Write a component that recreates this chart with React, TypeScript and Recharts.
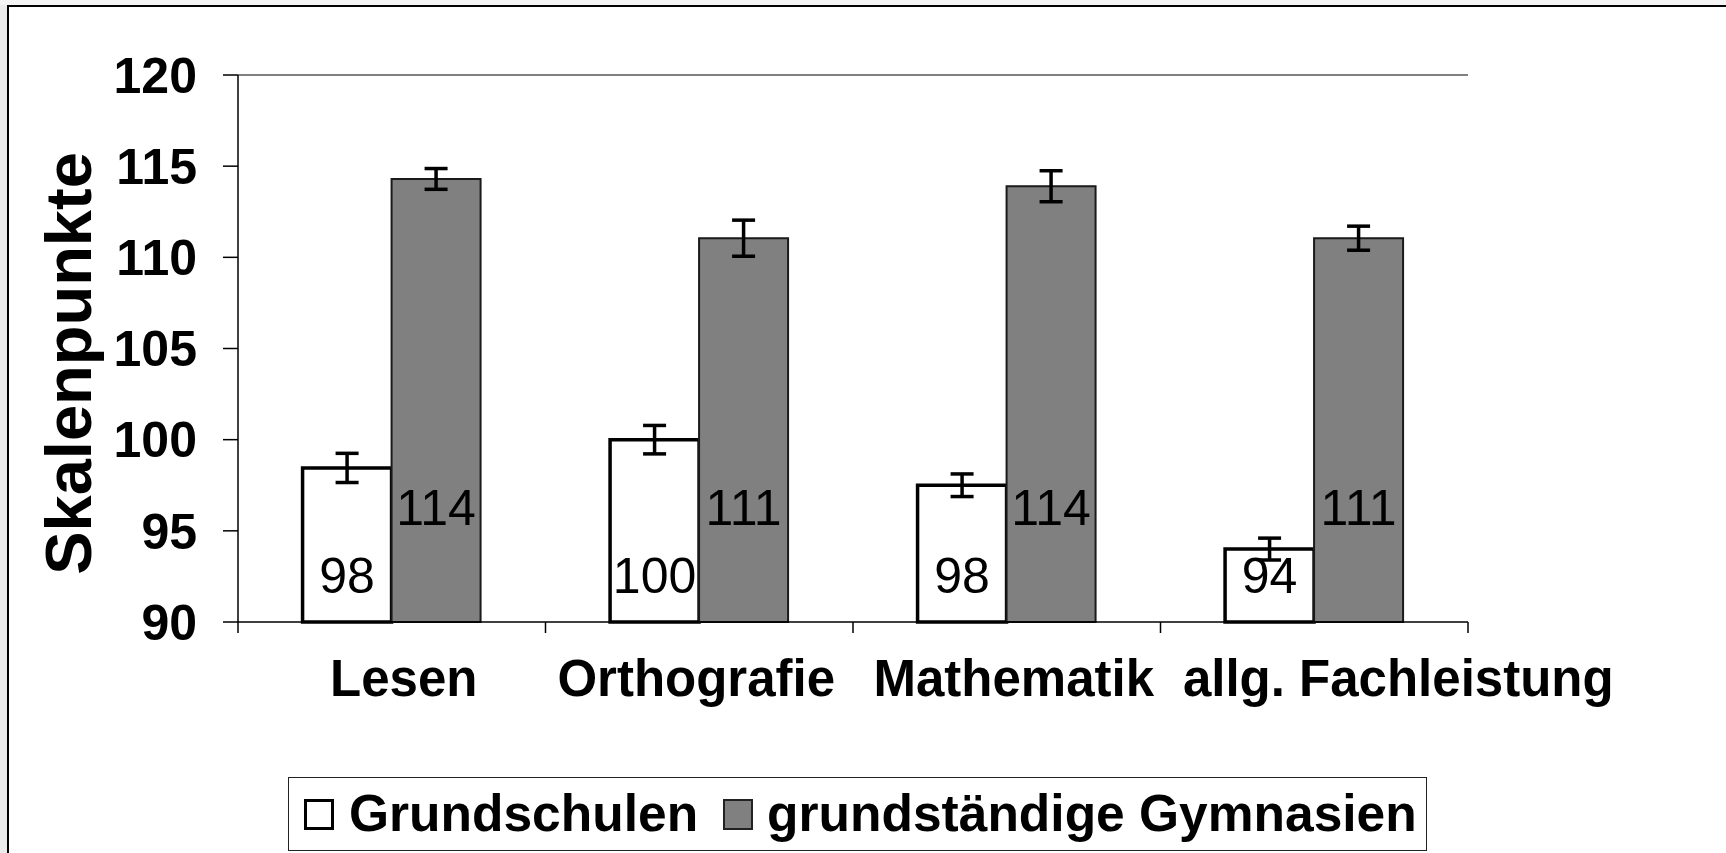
import React from 'react';
import { BarChart, Bar, XAxis, YAxis, ErrorBar, LabelList, Legend, ReferenceLine, Label } from 'recharts';

const categories = ['Lesen', 'Orthografie', 'Mathematik', 'allg. Fachleistung'];
const grundschulen = [98.45, 100.0, 97.5, 94.0];
const grundschulenErr = [0.8, 0.78, 0.62, 0.6];
const gymnasien = [114.3, 111.05, 113.9, 111.05];
const gymnasienErr = [0.57, 0.99, 0.85, 0.66];
const yTicks = [90, 95, 100, 105, 110, 115, 120];
const seriesNames = ['Grundschulen', 'grundständige Gymnasien'];
const axisTitle = 'Skalenpunkte';

// label nudges (layout only)
const TICK_NUDGE = [12, -3, 7, 84];
const FONT = '"Liberation Sans", Arial, Helvetica, sans-serif';

const data = categories.map((c, i) => ({
  cat: c,
  gs: grundschulen[i],
  gsErr: grundschulenErr[i],
  gy: gymnasien[i],
  gyErr: gymnasienErr[i],
}));

const CatTick = (props: any) => {
  const { x, y, payload, index } = props;
  const half = payload && typeof payload.offset === 'number' && payload.offset > 0 ? payload.offset : 153.75;
  const axisY = Number(y) - 11;
  const cx = Number(x);
  return (
    <g>
      <line x1={cx - half} y1={axisY} x2={cx - half} y2={axisY + 11} stroke="#000" strokeWidth={1.5} />
      {index === categories.length - 1 && (
        <line x1={cx + half} y1={axisY} x2={cx + half} y2={axisY + 11} stroke="#000" strokeWidth={1.5} />
      )}
      <text
        x={cx + (TICK_NUDGE[index] || 0)}
        y={axisY + 74}
        textAnchor="middle"
        fontFamily={FONT}
        fontWeight={700}
        fontSize={51}
        fill="#000"
      >
        {payload.value}
      </text>
    </g>
  );
};

const makeLabel = (offset: number) => (props: any) => {
  const { x, y, width, height, value } = props;
  const bottom = Number(y) + Number(height);
  return (
    <text
      x={Number(x) + Number(width) / 2}
      y={bottom - offset}
      textAnchor="middle"
      fontFamily={FONT}
      fontSize={50}
      fill="#000"
    >
      {Math.round(Number(value))}
    </text>
  );
};

const renderLegend = (props: any) => {
  const payload = props.payload || [];
  return (
    <div
      style={{
        boxSizing: 'border-box',
        width: 1139,
        height: 74,
        border: '1.5px solid #222',
        background: '#fff',
        display: 'flex',
        alignItems: 'center',
        paddingLeft: 15,
        fontFamily: FONT,
        fontWeight: 700,
        fontSize: 51.5,
        color: '#000',
        lineHeight: 1,
      }}
    >
      {payload.map((p: any, i: number) => (
        <div key={i} style={{ display: 'flex', alignItems: 'center', marginRight: i === 0 ? 25 : 0 }}>
          <span
            style={{
              display: 'inline-block',
              width: 30,
              height: 31,
              boxSizing: 'border-box',
              background: p.color,
              border: i === 0 ? '3.5px solid #000' : '2px solid #222',
              marginRight: i === 0 ? 15 : 14,
            }}
          />
          <span style={{ whiteSpace: 'nowrap' }}>{p.value}</span>
        </div>
      ))}
    </div>
  );
};

const TitleContent = (p: any) => {
  const vb = p.viewBox || { x: 0, y: 75, width: 238, height: 547 };
  return (
    <text
      transform={`translate(${vb.x + 91}, ${vb.y + vb.height / 2 + 15}) rotate(-90)`}
      textAnchor="middle"
      fontFamily={FONT}
      fontWeight={700}
      fontSize={65}
      fill="#000"
    >
      {axisTitle}
    </text>
  );
};

export default function App() {
  return (
    <div style={{ position: 'absolute', left: 0, top: 0, width: 1726, height: 853, background: '#ebebeb', overflow: 'hidden' }}>
      <div style={{ position: 'absolute', left: 0, top: 0, width: 1726, height: 5, background: '#f4f4f4' }} />
      <div
        style={{
          position: 'absolute',
          left: 7,
          top: 5,
          width: 1740,
          height: 870,
          background: '#fff',
          borderLeft: '2px solid #000',
          borderTop: '2px solid #000',
        }}
      />
      <div style={{ position: 'absolute', left: 0, top: 0 }}>
        <BarChart
          width={1726}
          height={853}
          data={data}
          margin={{ top: 75, right: 258, left: 0, bottom: 2 }}
          barCategoryGap="21%"
          barGap={0}
        >
          <XAxis
            dataKey="cat"
            height={155}
            interval={0}
            axisLine={{ stroke: '#000', strokeWidth: 1.5 }}
            tickLine={false}
            tickSize={11}
            tickMargin={0}
            tick={<CatTick />}
          />
          <YAxis
            domain={[90, 120]}
            ticks={yTicks}
            interval={0}
            width={238}
            tickSize={15}
            tickMargin={26}
            axisLine={{ stroke: '#000', strokeWidth: 1.5 }}
            tickLine={{ stroke: '#000', strokeWidth: 1.5 }}
            tick={{ fill: '#000', fontSize: 50, fontWeight: 700, fontFamily: FONT }}
          >
            <Label content={<TitleContent />} />
          </YAxis>
          <YAxis
            yAxisId="frame"
            orientation="right"
            width={0}
            domain={[0, 1]}
            tick={false}
            tickLine={false}
            axisLine={{ stroke: '#808080', strokeWidth: 2 }}
          />
          <ReferenceLine y={120} stroke="#808080" strokeWidth={2} />
          <Legend verticalAlign="bottom" align="left" content={renderLegend} wrapperStyle={{ left: 288, width: 'auto' }} />
          <Bar dataKey="gs" name={seriesNames[0]} fill="#ffffff" stroke="#000" strokeWidth={3.5} isAnimationActive={false}>
            <ErrorBar dataKey="gsErr" width={11.5} strokeWidth={3.5} stroke="#000" direction="y" />
            <LabelList dataKey="gs" content={makeLabel(29)} />
          </Bar>
          <Bar dataKey="gy" name={seriesNames[1]} fill="#808080" stroke="#1a1a1a" strokeWidth={2} isAnimationActive={false}>
            <ErrorBar dataKey="gyErr" width={11.5} strokeWidth={3.5} stroke="#000" direction="y" />
            <LabelList dataKey="gy" content={makeLabel(97)} />
          </Bar>
        </BarChart>
      </div>
    </div>
  );
}
